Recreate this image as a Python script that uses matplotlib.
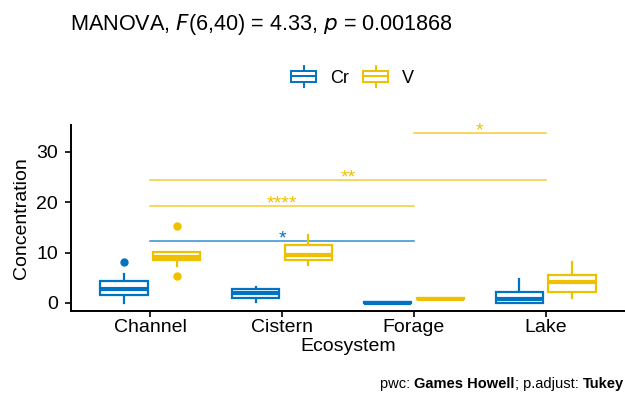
#!/usr/bin/env python3
import matplotlib
matplotlib.use("Agg")
import numpy as np
from matplotlib import pyplot as plt
from matplotlib.legend_handler import HandlerBase
from matplotlib.patches import Rectangle
from matplotlib.lines import Line2D

plt.rcParams['font.family'] = ['Liberation Sans', 'DejaVu Sans']

ecosystems = ["Channel", "Cistern", "Forage", "Lake"]
groups = ["Cr", "V"]
colors = {"Cr": "#0073C2", "V": "#EFC000"}

# box stats per group: (whisker_lo, q1, median, q3, whisker_hi)
cr_stats = [(0.06, 1.6, 2.74, 4.26, 5.73),
            (0.13, 0.93, 1.87, 2.73, 3.13),
            (0.0, 0.0, 0.07, 0.15, 0.15),
            (0.0, -0.07, 0.73, 2.07, 4.8)]
v_stats = [(7.4, 8.47, 9.2, 10.07, 10.1),
           (7.53, 8.47, 9.53, 11.53, 13.47),
           (0.7, 0.7, 0.8, 0.9, 0.9),
           (0.93, 2.2, 4.13, 5.53, 8.07)]
cr_outliers = [[8.13], [], [], []]
v_outliers = [[15.3, 5.27], [], [], []]

# significance brackets: (group, from, to, y, label)
brackets = [("Cr", 0, 2, 12.2, "*"),
            ("V", 0, 2, 19.3, "****"),
            ("V", 0, 3, 24.3, "**"),
            ("V", 2, 3, 33.7, "*")]

stats = {"Cr": cr_stats, "V": v_stats}
outliers = {"Cr": cr_outliers, "V": v_outliers}
offsets = {"Cr": -0.2, "V": 0.2}
box_w = 0.36

fig = plt.figure(figsize=(6.25, 3.94), dpi=100)
ax = fig.add_axes([0.1136, 0.2107, 0.8864, 0.4733])

for g in groups:
    c = colors[g]
    for i, (wlo, q1, med, q3, whi) in enumerate(stats[g]):
        x = i + 1 + offsets[g]
        ax.add_patch(Rectangle((x - box_w / 2, q1), box_w, q3 - q1,
                               facecolor="white", edgecolor=c, lw=1.6, zorder=3))
        ax.plot([x - box_w / 2, x + box_w / 2], [med, med], color=c, lw=3, zorder=4,
                solid_capstyle="butt")
        ax.plot([x, x], [q3, whi], color=c, lw=1.6, zorder=2)
        ax.plot([x, x], [wlo, q1], color=c, lw=1.6, zorder=2)
        if outliers[g][i]:
            ax.scatter([x] * len(outliers[g][i]), outliers[g][i], s=36, color=c,
                       zorder=5, linewidths=0)

for g, a, b, y, lab in brackets:
    c = colors[g]
    ax.plot([a + 1, b + 1], [y, y], color=c, lw=1.1, alpha=0.8, zorder=1)
    ax.text((a + b) / 2 + 1, y - 0.5, lab, color=c, fontsize=14,
            ha="center", va="baseline")

ax.set_xlim(0.4, 4.6)
ax.set_ylim(-1.6, 35.4)
ax.set_xticks(range(1, 5))
ax.set_xticklabels(ecosystems)
ax.set_yticks([0, 10, 20, 30])
ax.tick_params(labelsize=14, colors="black", length=4, width=1.2, pad=2)
ax.tick_params(axis="y", pad=5.5)
for s in ["top", "right"]:
    ax.spines[s].set_visible(False)
for s in ["left", "bottom"]:
    ax.spines[s].set_linewidth(1.4)
ax.set_xlabel("Ecosystem", fontsize=14, labelpad=1)
ax.set_ylabel("Concentration", fontsize=14, labelpad=4)


class BoxHandler(HandlerBase):
    def create_artists(self, legend, orig_handle, xdescent, ydescent, width, height,
                       fontsize, trans):
        c = orig_handle.get_color()
        x0, w = -xdescent, width
        y0, h = -ydescent + height * 0.2, height * 0.6
        r = Rectangle((x0, y0), w, h, facecolor="white", edgecolor=c, lw=1.4,
                      transform=trans)
        m = Line2D([x0, x0 + w], [y0 + h / 2] * 2, color=c, lw=1.4, transform=trans)
        t = Line2D([x0 + w / 2] * 2, [y0 + h, -ydescent + height * 1.05], color=c,
                   lw=1.4, transform=trans)
        bt = Line2D([x0 + w / 2] * 2, [-ydescent - height * 0.05, y0], color=c,
                    lw=1.4, transform=trans)
        return [r, m, t, bt]


handles = [Line2D([], [], color=colors[g]) for g in groups]
fig.legend(handles, groups, loc="center", bbox_to_anchor=(0.564, 0.805), ncol=2,
           frameon=False, fontsize=13, handler_map={Line2D: BoxHandler()},
           handlelength=1.4, handleheight=1.2, columnspacing=0.8, handletextpad=0.75)

fig.text(0.112, 0.937, r"MANOVA, $\it{F}$(6,40) = 4.33, $\it{p}$ = 0.001868",
         fontsize=15.6, ha="left", va="center")

# caption with mixed weights, right-aligned
parts = [("pwc: ", "normal"), ("Games Howell", "bold"), ("; p.adjust: ", "normal"),
         ("Tukey", "bold")]
fig.canvas.draw()
renderer = fig.canvas.get_renderer()
x = 0.998
for txt, wt in reversed(parts):
    t = fig.text(x, 0.025, txt, fontsize=10.5, weight=wt, ha="right", va="center")
    bb = t.get_window_extent(renderer=renderer)
    x -= bb.width / fig.bbox.width

fig.savefig("out.png", dpi=100)
